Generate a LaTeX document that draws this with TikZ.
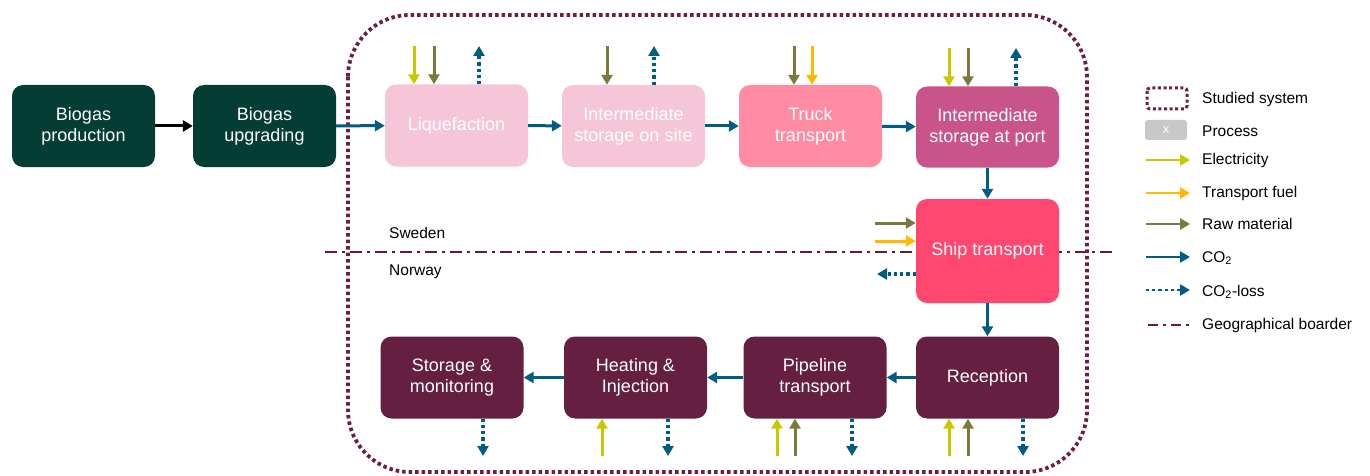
\documentclass[tikz,border=0pt]{standalone}
\usepackage{fontspec}
\setmainfont{Liberation Sans}
\usetikzlibrary{arrows.meta}
\definecolor{bgreen}{HTML}{033D33}
\definecolor{lpink}{HTML}{F5C5D8}
\definecolor{tpink}{HTML}{FF8CA2}
\definecolor{mpink}{HTML}{C9548A}
\definecolor{spink}{HTML}{FF476F}
\definecolor{wine}{HTML}{651F41}
\definecolor{sysborder}{HTML}{6E1E45}
\definecolor{cotwo}{HTML}{005C80}
\definecolor{elec}{HTML}{C8C800}
\definecolor{fuel}{HTML}{FFB900}
\definecolor{raw}{HTML}{7A7A3A}
\definecolor{geo}{HTML}{6B1A2C}
\definecolor{procgrey}{HTML}{C8C8C8}
\tikzset{
  procbox/.style={rounded corners=11pt, minimum width=143pt, minimum height=82pt,
    inner sep=0pt, align=center, text=white, font=\fontsize{18}{21}\selectfont},
  flow/.style={line width=3pt, -{Triangle[length=10pt,width=11pt]}},
  co2flow/.style={flow, draw=cotwo, fill=cotwo},
  lossflow/.style={co2flow, line width=3.2pt, dash pattern=on 3.2pt off 3pt},
  elecflow/.style={flow, draw=elec, fill=elec},
  fuelflow/.style={flow, draw=fuel, fill=fuel},
  rawflow/.style={flow, draw=raw, fill=raw},
  geoline/.style={draw=geo, line width=2.2pt, dash pattern=on 12pt off 5pt on 3pt off 5pt},
  legtext/.style={anchor=west, inner sep=0pt, font=\fontsize{15.5}{18}\selectfont},
  lbl/.style={anchor=west, inner sep=0pt, font=\fontsize{15.5}{18}\selectfont}
}
\begin{document}
\begin{tikzpicture}[x=1pt, y=-1pt]
\useasboundingbox (0,0) rectangle (1370,476);

% national border
\draw[geoline] (325,252) -- (1112,252);
\node[lbl] (sweden) at (389,233) {Sweden};
\node[lbl] (norway) at (389,272) {Norway};

% studied system
\draw[draw=sysborder, line width=3.8pt, dash pattern=on 3.5pt off 3pt, rounded corners=62pt]
  (348,15) rectangle (1087,472);

% process boxes
\node[procbox, fill=bgreen] (bp) at (83.5,126) {Biogas\\production};
\node[procbox, fill=bgreen] (bu) at (264.5,126) {Biogas\\upgrading};
\node[procbox, fill=lpink] (liq) at (456.5,125.5) {Liquefaction};
\node[procbox, fill=lpink] (iss) at (633.5,126) {Intermediate\\storage on site};
\node[procbox, fill=tpink] (truck) at (810.5,126) {Truck\\transport};
\node[procbox, fill=mpink, minimum height=81pt] (isp) at (987.5,127) {Intermediate\\storage at port};
\node[procbox, fill=spink, minimum height=104pt] (ship) at (987.5,251) {Ship transport};
\node[procbox, fill=wine] (rec) at (987.5,377.5) {Reception};
\node[procbox, fill=wine] (pipe) at (815,377.5) {Pipeline\\transport};
\node[procbox, fill=wine] (heat) at (635.5,377.5) {Heating \&\\Injection};
\node[procbox, fill=wine] (stor) at (452,377.5) {Storage \&\\monitoring};

% main chain
\draw[flow, draw=black, fill=black] (bp) -- (bu);
\draw[co2flow] (bu) -- (liq);
\draw[co2flow] (liq) -- (iss);
\draw[co2flow] (iss) -- (truck);
\draw[co2flow] (truck) -- (isp);
\draw[co2flow] (isp) -- (ship);
\draw[co2flow] (ship) -- (rec);
\draw[co2flow] (rec) -- (pipe);
\draw[co2flow] (pipe) -- (heat);
\draw[co2flow] (heat) -- (stor);

% inputs and losses, upper row
\coordinate (liqE) at (414,46);  \draw[elecflow] (liqE) -- (liqE |- liq.north);
\coordinate (liqR) at (434,46);  \draw[rawflow] (liqR) -- (liqR |- liq.north);
\coordinate (liqL) at (479,46);  \draw[lossflow] (liqL |- liq.north) -- (liqL);
\coordinate (issR) at (607,46);  \draw[rawflow] (issR) -- (issR |- iss.north);
\coordinate (issL) at (654,46);  \draw[lossflow] (issL |- iss.north) -- (issL);
\coordinate (trR) at (794,46);   \draw[rawflow] (trR) -- (trR |- truck.north);
\coordinate (trF) at (812,46);   \draw[fuelflow] (trF) -- (trF |- truck.north);
\coordinate (ispE) at (949,48);  \draw[elecflow] (ispE) -- (ispE |- isp.north);
\coordinate (ispR) at (968,48);  \draw[rawflow] (ispR) -- (ispR |- isp.north);
\coordinate (ispL) at (1016,48); \draw[lossflow] (ispL |- isp.north) -- (ispL);

% ship
\coordinate (shR) at (875,223); \draw[rawflow] (shR) -- (shR -| ship.west);
\coordinate (shF) at (875,241); \draw[fuelflow] (shF) -- (shF -| ship.west);
\coordinate (shL) at (877,274); \draw[lossflow] (shL -| ship.west) -- (shL);

% inputs and losses, lower row
\coordinate (recE) at (949,456);  \draw[elecflow] (recE) -- (recE |- rec.south);
\coordinate (recR) at (968,456);  \draw[rawflow] (recR) -- (recR |- rec.south);
\coordinate (recL) at (1023,456); \draw[lossflow] (recL |- rec.south) -- (recL);
\coordinate (piE) at (777,456);   \draw[elecflow] (piE) -- (piE |- pipe.south);
\coordinate (piR) at (795,456);   \draw[rawflow] (piR) -- (piR |- pipe.south);
\coordinate (piL) at (852,456);   \draw[lossflow] (piL |- pipe.south) -- (piL);
\coordinate (heE) at (602,456);   \draw[elecflow] (heE) -- (heE |- heat.south);
\coordinate (heL) at (668,456);   \draw[lossflow] (heL |- heat.south) -- (heL);
\coordinate (stL) at (483,456);   \draw[lossflow] (stL |- stor.south) -- (stL);

% legend
\draw[draw=sysborder, line width=3pt, dash pattern=on 3pt off 2.6pt, rounded corners=3pt]
  (1147,88) rectangle (1187,109);
\node[legtext] (lsys) at (1202,99) {Studied system};
\node[fill=procgrey, rounded corners=3pt, minimum width=42pt, minimum height=20pt, inner sep=0pt,
  text=white, font=\fontsize{13}{15}\selectfont] (lproc) at (1166,130) {x};
\node[legtext] (lproct) at (1202,131) {Process};
\coordinate (le1) at (1146,160); \coordinate (le2) at (1190,160);
\draw[elecflow, line width=2.6pt] (le1) -- (le2);
\node[legtext] (lelec) at (1202,160) {Electricity};
\coordinate (lf1) at (1146,193); \coordinate (lf2) at (1190,193);
\draw[fuelflow, line width=2.6pt] (lf1) -- (lf2);
\node[legtext] (lfuel) at (1202,193) {Transport fuel};
\coordinate (lr1) at (1146,224); \coordinate (lr2) at (1190,224);
\draw[rawflow, line width=2.6pt] (lr1) -- (lr2);
\node[legtext] (lraw) at (1202,224) {Raw material};
\coordinate (lc1) at (1146,257); \coordinate (lc2) at (1190,257);
\draw[co2flow, line width=2.6pt] (lc1) -- (lc2);
\node[legtext] (lco) at (1202,258) {CO\textsubscript{2}};
\coordinate (ll1) at (1146,290); \coordinate (ll2) at (1190,290);
\draw[lossflow, line width=2.8pt] (ll1) -- (ll2);
\node[legtext] (lloss) at (1202,292) {CO\textsubscript{2}-loss};
\coordinate (lg1) at (1148,325); \coordinate (lg2) at (1192,325);
\draw[geoline, dash pattern=on 10pt off 5pt on 3pt off 5pt] (lg1) -- (lg2);
\node[legtext] (lgeo) at (1202,325) {Geographical boarder};
\end{tikzpicture}
\end{document}
